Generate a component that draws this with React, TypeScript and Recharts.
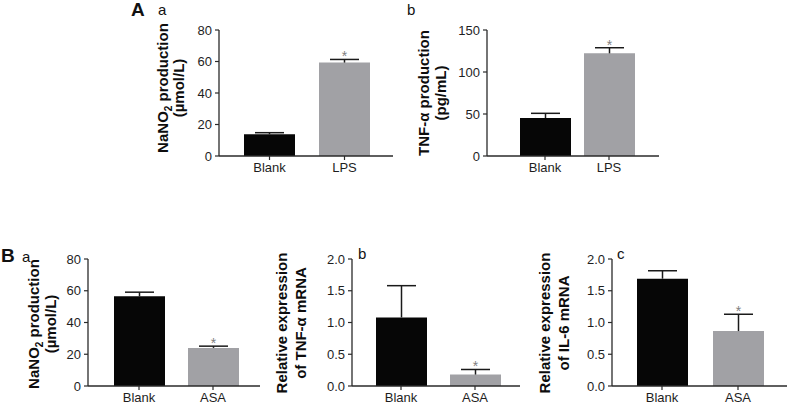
import React from 'react';
import { BarChart, Bar, XAxis, YAxis, Cell, LabelList } from 'recharts';

// ---- data ----
const categoriesA = ['Blank', 'LPS'];
const categoriesB = ['Blank', 'ASA'];

const aNaNO2 = [13.8, 59.3];
const aNaNO2Err = [1.0, 2.0];
const aTNF = [45.2, 122.2];
const aTNFErr = [5.6, 6.7];

const bNaNO2 = [56.5, 24.0];
const bNaNO2Err = [2.6, 1.1];
const bTNFmRNA = [1.08, 0.18];
const bTNFmRNAErr = [0.5, 0.08];
const bIL6mRNA = [1.69, 0.865];
const bIL6mRNAErr = [0.125, 0.265];

const stars = [false, true];

const ticksNaNO2 = [0, 20, 40, 60, 80];
const ticksTNF = [0, 50, 100, 150];
const ticksRel = [0, 0.5, 1.0, 1.5, 2.0];

const barColors = ['#060606', '#a1a1a5'];
const FONT = '"Liberation Sans", Arial, Helvetica, sans-serif';

function build(cats: string[], vals: number[], errs: number[]) {
  return cats.map((c, i) => ({ name: c, mean: vals[i], sem: errs[i] }));
}

// upper-only error bar (SEM) plus significance star, placed with the bar's own scale
function makeErrAndStar(errs: number[]) {
  return (props: any) => {
    const { x, y, width, height, value, index } = props;
    const v = Number(value);
    if (!v) return null;
    const pxPerUnit = Number(height) / v;
    const cx = Number(x) + Number(width) / 2;
    const top = Number(y) - errs[index] * pxPerUnit;
    const half = 14.5;
    return (
      <g>
        <line x1={cx} x2={cx} y1={Number(y)} y2={top} stroke="#1a1a1a" strokeWidth={1.5} />
        <line x1={cx - half} x2={cx + half} y1={top} y2={top} stroke="#1a1a1a" strokeWidth={1.5} />
        {stars[index] ? (
          <text x={cx} y={top + 2} textAnchor="middle" fontSize={14} fill="#808080" fontFamily={FONT}>
            *
          </text>
        ) : null}
      </g>
    );
  };
}

type PanelProps = {
  left: number; top: number; width: number; height: number;
  yAxisWidth: number; marginTop: number; marginRight: number; plotBottom: number;
  cats: string[]; vals: number[]; errs: number[];
  domain: [number, number]; ticks: number[]; decimals: number;
  padL: number; padR: number;
};

const axisColor = '#2a2a2a';
const tickStyle = { fontSize: 13, fill: '#1e1e1e', fontFamily: FONT };

function Panel(p: PanelProps) {
  const data = build(p.cats, p.vals, p.errs);
  const xAxisH = 18;
  const marginBottom = p.height - xAxisH - p.plotBottom;
  return (
    <div style={{ position: 'absolute', left: p.left, top: p.top, width: p.width, height: p.height }}>
      <BarChart width={p.width} height={p.height} data={data}
        margin={{ top: p.marginTop, right: p.marginRight, bottom: marginBottom, left: 0 }}>
        <XAxis dataKey="name" height={xAxisH} padding={{ left: p.padL, right: p.padR }}
          tickSize={4} tickMargin={3} tick={tickStyle}
          axisLine={{ stroke: axisColor, strokeWidth: 1.3 }} tickLine={{ stroke: axisColor, strokeWidth: 1.2 }} />
        <YAxis width={p.yAxisWidth} domain={p.domain} ticks={p.ticks} interval={0}
          tickFormatter={(v: number) => v.toFixed(p.decimals)}
          tickSize={4} tickMargin={3} tick={tickStyle}
          axisLine={{ stroke: axisColor, strokeWidth: 1.3 }} tickLine={{ stroke: axisColor, strokeWidth: 1.2 }} />
        <Bar dataKey="mean" barSize={51} isAnimationActive={false}>
          {data.map((_, i) => <Cell key={i} fill={barColors[i]} />)}
          <LabelList dataKey="mean" content={makeErrAndStar(p.errs)} />
        </Bar>
      </BarChart>
    </div>
  );
}

function YLabel({ x1, x2, cy, line1, line2 }: { x1: number; x2: number; cy: number; line1: React.ReactNode; line2: string }) {
  return (
    <g fontFamily={FONT} fontWeight="bold" fontSize={15} fill="#0d0d0d" textAnchor="middle">
      <text x={x1} y={cy} transform={`rotate(-90 ${x1} ${cy})`}>{line1}</text>
      <text x={x2} y={cy} transform={`rotate(-90 ${x2} ${cy})`}>{line2}</text>
    </g>
  );
}

const nano2 = (
  <>
    <tspan>NaNO</tspan>
    <tspan fontSize={10} dy={4}>2</tspan>
    <tspan dy={-4}> production</tspan>
  </>
);

export default function App() {
  return (
    <div style={{ position: 'absolute', left: 0, top: 0, width: 789, height: 404, background: '#fff', overflow: 'hidden' }}>
      <Panel left={130} top={0} width={270} height={200} yAxisWidth={89} marginTop={30} marginRight={7} plotBottom={156}
        cats={categoriesA} vals={aNaNO2} errs={aNaNO2Err} domain={[0, 80]} ticks={ticksNaNO2} decimals={0} padL={13} padR={11} />
      <Panel left={400} top={0} width={270} height={200} yAxisWidth={87} marginTop={30} marginRight={11} plotBottom={156}
        cats={categoriesA} vals={aTNF} errs={aTNFErr} domain={[0, 150]} ticks={ticksTNF} decimals={0} padL={26} padR={18} />
      <Panel left={0} top={220} width={270} height={184} yAxisWidth={88} marginTop={39} marginRight={10} plotBottom={166}
        cats={categoriesB} vals={bNaNO2} errs={bNaNO2Err} domain={[0, 80]} ticks={ticksNaNO2} decimals={0} padL={14} padR={10} />
      <Panel left={270} top={220} width={260} height={184} yAxisWidth={82} marginTop={39} marginRight={10} plotBottom={166}
        cats={categoriesB} vals={bTNFmRNA} errs={bTNFmRNAErr} domain={[0, 2]} ticks={ticksRel} decimals={1} padL={12} padR={8} />
      <Panel left={530} top={220} width={259} height={184} yAxisWidth={82} marginTop={39} marginRight={2} plotBottom={166}
        cats={categoriesB} vals={bIL6mRNA} errs={bIL6mRNAErr} domain={[0, 2]} ticks={ticksRel} decimals={1} padL={12} padR={11} />

      <svg width={789} height={404} style={{ position: 'absolute', left: 0, top: 0, pointerEvents: 'none' }}>
        <YLabel x1={168} x2={184} cy={88} line1={nano2} line2="(µmol/L)" />
        <YLabel x1={429} x2={446} cy={93} line1="TNF-α production" line2="(pg/mL)" />
        <YLabel x1={39} x2={56} cy={324} line1={nano2} line2="(µmol/L)" />
        <YLabel x1={287} x2={306} cy={323} line1="Relative expression" line2="of TNF-α mRNA" />
        <YLabel x1={550} x2={569} cy={323} line1="Relative expression" line2="of IL-6 mRNA" />
        <g fontFamily={FONT} fill="#111">
          <text x={131} y={16} fontSize={19} fontWeight="bold">A</text>
          <text x={158} y={15} fontSize={15}>a</text>
          <text x={407} y={15} fontSize={15}>b</text>
          <text x={1} y={262} fontSize={19} fontWeight="bold">B</text>
          <text x={22} y={262} fontSize={15}>a</text>
          <text x={358} y={259} fontSize={15}>b</text>
          <text x={617} y={259} fontSize={15}>c</text>
        </g>
      </svg>
    </div>
  );
}
